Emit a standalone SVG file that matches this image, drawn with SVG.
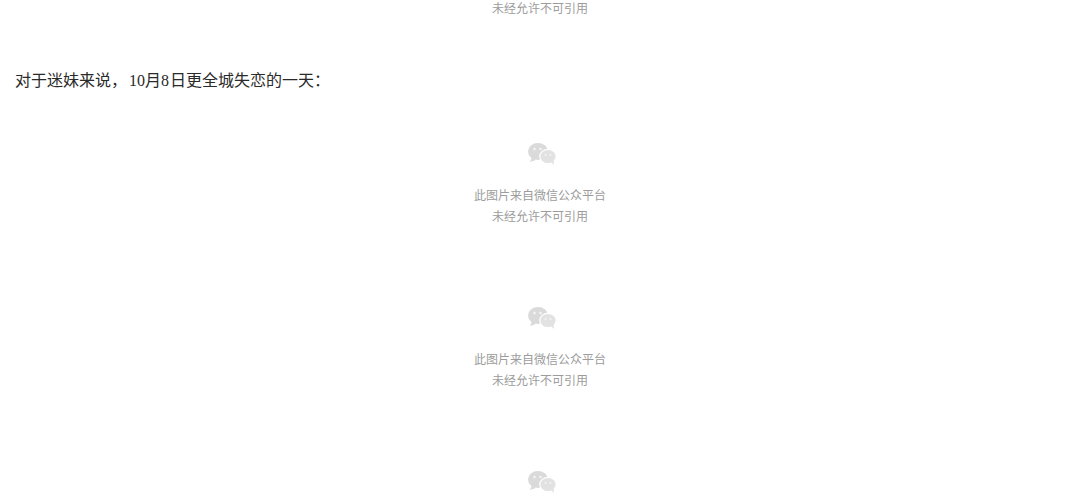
<svg xmlns="http://www.w3.org/2000/svg" width="1080" height="500" viewBox="0 0 1080 500">
<style>
.cap{font-family:"Noto Sans CJK SC","Liberation Sans",sans-serif;font-size:12px;fill:#9c9c9c;text-anchor:middle}
.body{font-family:"Liberation Serif","Noto Sans CJK SC",serif;font-size:16px;fill:#2a2a2a}
.b{fill:#dadada}.f{fill:#e2e2e2;stroke:#fff;stroke-width:1.200}.e{fill:#f4f4f4}
</style>
<defs>
<g id="wx">
<ellipse class="b" cx="-4" cy="-2.500" rx="10" ry="8.500"/>
<path class="b" d="M-10 3l-2 5 6-2z"/>
<ellipse class="f" cx="6" cy="2.500" rx="8.200" ry="7.200"/>
<path fill="#e2e2e2" d="M9 8l3 3-.5-5z"/>
<circle class="e" cx="-7.500" cy="-5" r="1.300"/><circle class="e" cx="-1.500" cy="-5" r="1.300"/>
<circle class="e" cx="3.500" cy="1" r="1"/><circle class="e" cx="8.500" cy="1" r="1"/>
</g>
</defs>
<rect width="1080" height="500" fill="#fff"/>
<text class="cap" x="540" y="12.500">未经允许不可引用</text>
<text class="body" y="85.500" x="15 31 47 63 79 95 111 129 137 145 161 170 186 202 218 234 250 266 282 298 314">对于迷妹来说，10月8日更全城失恋的一天：</text>
<g id="placeholder-1"><use href="#wx" x="542" y="154"/>
<text class="cap" x="540" y="199.500">此图片来自微信公众平台</text>
<text class="cap" x="540" y="220.500">未经允许不可引用</text></g>
<g id="placeholder-2"><use href="#wx" x="542" y="318"/>
<text class="cap" x="540" y="363.500">此图片来自微信公众平台</text>
<text class="cap" x="540" y="384.500">未经允许不可引用</text></g>
<g id="placeholder-3"><use href="#wx" x="542" y="482"/></g>
</svg>
